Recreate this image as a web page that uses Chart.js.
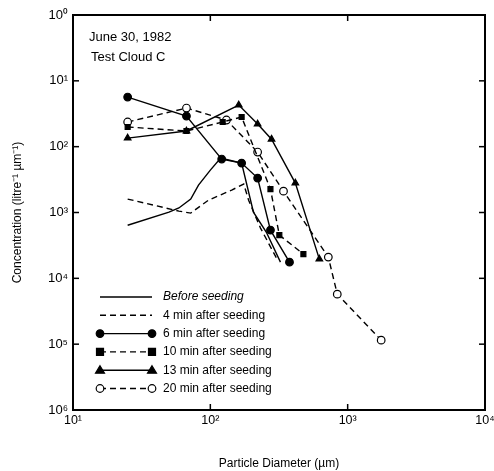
<!DOCTYPE html>
<html><head><meta charset="utf-8">
<script src="https://cdn.jsdelivr.net/npm/chart.js@4"></script>
<style>html,body{margin:0;padding:0;background:#fff}#wrap{width:494px;height:471px}</style>
</head><body><div id="wrap"><canvas id="c" width="494" height="471"></canvas></div>
<script>
const seriesLabels = ['Before seeding','4 min after seeding','6 min after seeding','10 min after seeding','13 min after seeding','20 min after seeding'];
const beforeX = [25, 50, 59, 72, 82, 100, 119, 169, 206, 256, 324];
const beforeY = [0.00064, 0.00101, 0.00117, 0.00160, 0.00261, 0.00441, 0.00671, 0.00563, 0.00101, 0.00050, 0.000176];
const min4X = [25, 59, 72, 97, 143, 175, 190, 232, 303];
const min4Y = [0.00160, 0.00105, 0.00098, 0.00154, 0.00219, 0.00270, 0.00154, 0.00058, 0.000203];
const min6X = [25, 67, 121, 169, 221, 274, 377];
const min6Y = [0.0567, 0.0292, 0.00648, 0.00563, 0.00333, 0.00054, 0.000176];
const min10X = [25, 67, 123, 169, 274, 318, 476];
const min10Y = [0.0199, 0.0173, 0.0237, 0.0282, 0.00227, 0.000454, 0.000233];
const min13X = [25, 67, 161, 221, 279, 416, 622];
const min13Y = [0.0135, 0.0173, 0.0429, 0.0221, 0.0130, 0.00280, 0.000196];
const min20X = [25, 67, 131, 221, 341, 723, 840, 1754];
const min20Y = [0.0237, 0.0386, 0.0254, 0.00828, 0.00211, 0.000210, 0.0000575, 0.0000115];
const xTickValues = [10, 100, 1000, 10000];
const xTickLabels = ['10¹', '10²', '10³', '10⁴'];
const yTickValues = [1e-6, 1e-5, 1e-4, 1e-3, 1e-2, 1e-1, 1];
const yTickLabels = ['10⁶', '10⁵', '10⁴', '10³', '10²', '10¹', '10⁰'];
const titleLines = ['June 30, 1982', 'Test Cloud C'];

const FONT = '"Liberation Sans", Arial, Helvetica, sans-serif';
const pts = (xs, ys) => xs.map((x, i) => ({x, y: ys[i]}));
const styles = [
  {dash: [], marker: false, italic: true},
  {dash: [6, 4], marker: false},
  {dash: [], marker: 'circle', fill: '#000'},
  {dash: [6, 4], marker: 'rect', fill: '#000'},
  {dash: [], marker: 'triangle', fill: '#000'},
  {dash: [6, 4], marker: 'circle', fill: '#fff'}
];
const allX = [beforeX, min4X, min6X, min10X, min13X, min20X];
const allY = [beforeY, min4Y, min6Y, min10Y, min13Y, min20Y];
const datasets = seriesLabels.map((lab, i) => ({
  label: lab,
  data: pts(allX[i], allY[i]),
  borderColor: '#000',
  borderWidth: 1.4,
  borderDash: styles[i].dash,
  backgroundColor: styles[i].fill || '#000',
  pointStyle: styles[i].marker || 'circle',
  pointRadius: styles[i].marker ? (styles[i].marker === 'rect' ? 3.5 : 3.8) : 0,
  pointBorderColor: '#000',
  pointBorderWidth: 1.2,
  pointBackgroundColor: styles[i].fill || '#000',
  tension: 0,
  fill: false
}));

const decor = {
  id: 'decor',
  afterDatasetsDraw(chart) {
    const {ctx, chartArea: a, scales} = chart;
    ctx.save();
    ctx.strokeStyle = '#000';
    ctx.lineWidth = 2;
    ctx.strokeRect(a.left, a.top, a.right - a.left, a.bottom - a.top);
    ctx.lineWidth = 1.5;
    yTickValues.forEach(v => {
      const y = scales.y.getPixelForValue(v);
      ctx.beginPath(); ctx.moveTo(a.left, y); ctx.lineTo(a.left + 6, y); ctx.stroke();
      ctx.beginPath(); ctx.moveTo(a.right, y); ctx.lineTo(a.right - 6, y); ctx.stroke();
    });
    xTickValues.forEach(v => {
      const x = scales.x.getPixelForValue(v);
      ctx.beginPath(); ctx.moveTo(x, a.bottom); ctx.lineTo(x, a.bottom - 6); ctx.stroke();
      ctx.beginPath(); ctx.moveTo(x, a.top); ctx.lineTo(x, a.top + 6); ctx.stroke();
    });
    ctx.fillStyle = '#000';
    ctx.font = '13px ' + FONT;
    ctx.textBaseline = 'middle';
    ctx.textAlign = 'left';
    ctx.fillText(titleLines[0], a.left + 16, a.top + 22);
    ctx.fillText(titleLines[1], a.left + 18, a.top + 42);
    const lx0 = a.left + 27, lx1 = a.left + 79, tx = a.left + 90;
    chart.data.datasets.forEach((ds, i) => {
      const y = a.top + 282 + i * 18.3;
      const st = styles[i];
      ctx.lineWidth = 1.4;
      ctx.setLineDash(st.dash);
      ctx.beginPath(); ctx.moveTo(lx0, y); ctx.lineTo(lx1, y); ctx.stroke();
      ctx.setLineDash([]);
      if (st.marker) {
        [lx0, lx1].forEach(x => {
          ctx.fillStyle = st.fill; ctx.lineWidth = 1.2;
          ctx.beginPath();
          if (st.marker === 'circle') ctx.arc(x, y, 3.8, 0, Math.PI * 2);
          else if (st.marker === 'rect') ctx.rect(x - 3.5, y - 3.5, 7, 7);
          else { ctx.moveTo(x, y - 4.5); ctx.lineTo(x + 4.5, y + 3); ctx.lineTo(x - 4.5, y + 3); ctx.closePath(); }
          ctx.fill(); ctx.stroke();
        });
      }
      ctx.fillStyle = '#000';
      ctx.font = (st.italic ? 'italic ' : '') + '12px ' + FONT;
      ctx.fillText(ds.label, tx, y);
    });
    ctx.restore();
  }
};

new Chart(document.getElementById('c'), {
  type: 'line',
  data: {datasets},
  options: {
    responsive: false, animation: false, devicePixelRatio: 1,
    layout: {padding: {top: 15, right: 9, left: 0, bottom: 0}},
    scales: {
      x: {
        type: 'logarithmic', min: 10, max: 10000,
        afterBuildTicks: s => { s.ticks = xTickValues.map(v => ({value: v})); },
        ticks: {callback: (v, i) => xTickLabels[i], font: {family: FONT, size: 12.5}, color: '#000', padding: 3, maxRotation: 0, autoSkip: false},
        grid: {display: false, drawTicks: false},
        border: {display: false},
        title: {display: true, text: 'Particle Diameter (µm)', font: {family: FONT, size: 12}, color: '#000', padding: {top: 22, bottom: 0}},
        afterFit: s => { s.height = 61; s.paddingRight = 0; s.paddingLeft = 0; }
      },
      y: {
        type: 'logarithmic', min: 1e-6, max: 1,
        afterBuildTicks: s => { s.ticks = yTickValues.map(v => ({value: v})); },
        ticks: {callback: (v, i) => yTickLabels[i], font: {family: FONT, size: 13}, color: '#000', padding: 5, autoSkip: false},
        grid: {display: false, drawTicks: false},
        border: {display: false},
        title: {display: true, text: 'Concentration (litre⁻¹ µm⁻¹)', font: {family: FONT, size: 12}, color: '#000', padding: {top: 10, bottom: 0}},
        afterFit: s => { s.width = 73; s.paddingTop = 0; s.paddingBottom = 0; }
      }
    },
    plugins: {legend: {display: false}, tooltip: {enabled: false}}
  },
  plugins: [decor]
});
</script></body></html>
